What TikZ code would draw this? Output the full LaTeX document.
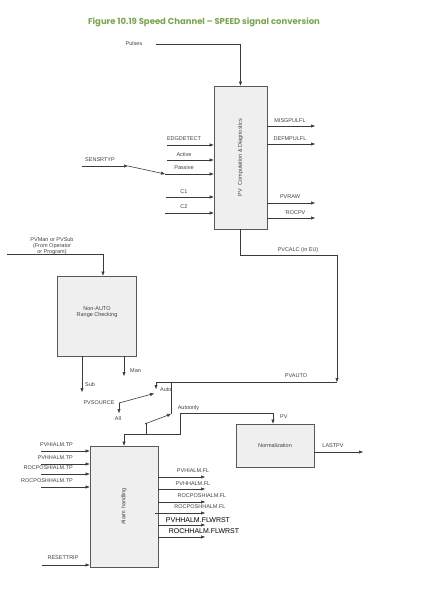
\documentclass[tikz,border=0pt]{standalone}
\usepackage{fontspec}
\setmainfont{Liberation Sans}
\newfontfamily\titlefont{Poppins}
\usetikzlibrary{arrows.meta}
\definecolor{titlegreen}{HTML}{7BA44F}
\definecolor{boxfill}{HTML}{EFEFEF}
\definecolor{lineclr}{HTML}{3A3A3A}
\tikzset{
 blk/.style={draw=lineclr!85, fill=boxfill, line width=0.8pt, inner sep=0},
 lbl/.style={font=\fontsize{5.5}{6.2}\selectfont, text=black!75, inner sep=0, align=center},
 biglbl/.style={font=\fontsize{7}{8}\selectfont, text=black, inner sep=0},
 wire/.style={draw=lineclr, line width=0.6pt},
 arr/.style={wire, -{Triangle[length=4pt,width=3pt]}},
}
\begin{document}
\begin{tikzpicture}[x=1pt,y=-1pt]
\useasboundingbox (0,0) rectangle (425,591);
% title
\node[font=\titlefont\bfseries\fontsize{8.5}{10}\selectfont, text=titlegreen, inner sep=0] (title) at (204,22) {Figure 10.19 Speed Channel – SPEED signal conversion};
% blocks
\node[blk, minimum width=53pt, minimum height=143pt] (pc) at (240.5,157.5) {};
\node[lbl, rotate=90] (pctxt) at (pc.center) {PV\,\, Computation \& Diagnostics};
\node[blk, minimum width=79pt, minimum height=80pt] (na) at (96.5,316) {};
\node[lbl] (natxt) at (97,312.5) {Non-AUTO\\Range Checking};
\node[blk, minimum width=78pt, minimum height=43pt] (nm) at (275,445.5) {};
\node[lbl] (nmtxt) at (nm.center) {Normalization};
\node[blk, minimum width=68pt, minimum height=121pt] (al) at (124,506.5) {};
\node[lbl, rotate=90] (altxt) at (al.center) {Alarm handling};
% Pulses
\node[lbl] (pulses) at (134,44) {Pulses};
\coordinate (pulsesS) at (156,44);
\draw[arr] (pulsesS) -| (pc.north);
% inputs to pc
\foreach \n/\t/\y/\ly/\xs in {edg/EDGDETECT/145/139/167, act/Active/160/155/167, pas/Passive/174/168/165, ca/C1/197/192/166, cb/C2/213/207/165}{
  \node[lbl] (\n L) at (184,\ly) {\t};
  \coordinate (\n S) at (\xs,\y);
  \draw[arr] (\n S) -- (pc.west |- \n S);
}
\node[lbl] (sensL) at (100,160) {SENSRTYP};
\coordinate (sensS) at (82,166);
\coordinate (sensE) at (128,166);
\draw[arr] (sensS) -- (sensE);
\draw[arr] (sensE) -- (pasS);
% outputs of pc
\foreach \n/\t/\y/\ly/\lx in {mis/MISGPULFL/126/121/290, def/DEFMPULFL/144/139/290, raw/PVRAW/203/197/290, roc/'ROCPV/218/213/295}{
  \node[lbl] (\n L) at (\lx,\ly) {\t};
  \coordinate (\n E) at (315,\y);
  \draw[arr] (pc.east |- \n E) -- (\n E);
}
% PVCALC
\node[lbl] (calcL) at (298,250) {PVCALC (in EU)};
\coordinate (calcA) at (240,255);
\coordinate (calcB) at (337,255);
\coordinate (autoR) at (337,382);
\draw[arr] (pc.south -| calcA) -- (calcA) -- (calcB) -- (autoR);
% PVAUTO
\node[lbl] (autoL) at (296,376) {PVAUTO};
\coordinate (autoTop) at (156,382);
\coordinate (autoTip) at (156,389);
\draw[arr] (autoR) -- (autoTop) -- (autoTip);
\node[lbl, anchor=west] (autoT) at (160,390) {Auto};
\coordinate (aoTop) at (171,382);
\coordinate (aoTip) at (171,414);
\draw[wire] (aoTop) -- (aoTip);
% PV source switch
\node[lbl] (srcL) at (99,403) {PVSOURCE};
\coordinate (srcP) at (119,403);
\coordinate (srcTip) at (154,393.5);
\coordinate (allTip) at (119,413);
\draw[arr] (srcP) -- (srcTip);
\draw[arr] (srcP) -- (allTip);
\node[lbl] (allL) at (118,419) {All};
% autoonly switch
\coordinate (swP) at (146,423.5);
\fill[lineclr] (swP) circle (1pt);
\draw[arr] (swP) -- (aoTip);
\coordinate (busL) at (124,434);
\coordinate (busS) at (146,434);
\coordinate (busR) at (180,434);
\coordinate (stepT) at (180,413);
\coordinate (pvT) at (273,413);
\draw[wire] (swP) -- (busS);
\draw[arr] (busL) -- (busR) -- (stepT) -- (pvT) -- (pvT |- nm.north);
\draw[arr] (busL) -- (busL |- al.north);
\node[lbl] (aoL) at (188.5,408) {Autoonly};
\node[lbl, anchor=west] (pvL) at (280,417) {PV};
% LASTPV
\node[lbl] (lastL) at (333,446) {LASTPV};
\coordinate (lastE) at (363,452);
\draw[arr] (nm.east |- lastE) -- (lastE);
% PVMan
\node[lbl] (manL) at (52,246) {PVMan or PVSub\\(From Operator\\or Program)};
\coordinate (manS) at (7,254);
\coordinate (manC) at (103,254);
\draw[arr] (manS) -- (manC) -- (manC |- na.north);
% Sub / Man
\coordinate (subE) at (82,392);
\draw[arr] (na.south -| subE) -- (subE);
\node[lbl, anchor=west] (subL) at (85,385) {Sub};
\coordinate (manE) at (124,376);
\draw[arr] (na.south -| manE) -- (manE);
\node[lbl, anchor=west] (manT) at (130,371) {Man};
% alarm inputs
\foreach \n/\t/\y/\ly in {ia/PVHIALM.TP/451/445, ib/PVHHALM.TP/464/458, ic/ROCPOSHIALM.TP/474/468, id/ROCPOSHHALM.TP/487/481}{
  \node[lbl, anchor=east] (\n L) at (73,\ly) {\t};
  \coordinate (\n S) at (41,\y);
  \draw[arr] (\n S) -- (al.west |- \n S);
}
\node[lbl] (rstL) at (63,558) {RESETTRIP};
\coordinate (rstS) at (42,565);
\draw[arr] (rstS) -- (al.west |- rstS);
% alarm outputs
\foreach \n/\t/\y/\ly/\lx in {oa/PVHIALM.FL/477/471/193, ob/PVHHALM.FL/489/484/193, oc/ROCPOSHIALM.FL/502/496/202, od/ROCPOSHHALM.FL/513/507/200}{
  \node[lbl] (\n L) at (\lx,\ly) {\t};
  \coordinate (\n E) at (205,\y);
}
\foreach \n in {oa,ob,oc}{\draw[arr] (al.east |- \n E) -- (\n E);}
\coordinate (odS) at (155,513);
\draw[arr] (odS) -- (odE);
\node[biglbl] (oeL) at (198,520) {PVHHALM.FLWRST};
\node[biglbl] (ofL) at (204,531) {ROCHHALM.FLWRST};
\coordinate (oeE) at (205,525);
\coordinate (ofE) at (205,537);
\draw[arr] (al.east |- oeE) -- (oeE);
\draw[arr] (al.east |- ofE) -- (ofE);
\end{tikzpicture}
\end{document}
